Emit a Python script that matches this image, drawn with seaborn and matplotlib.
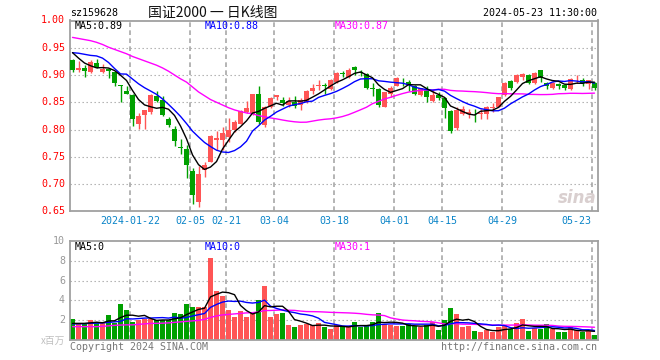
import numpy as np
import pandas as pd
import matplotlib
matplotlib.use("Agg")
import matplotlib.pyplot as plt
import matplotlib.transforms as mtransforms
import seaborn as sns

# ---------------- data ----------------
tick_idx = [10, 20, 26, 34, 44, 54, 62, 72, 87]
tick_labels = ["2024-01-22", "02-05", "02-21", "03-04", "03-18",
               "04-01", "04-15", "04-29", "05-23"]

opens = [0.928, 0.909, 0.912, 0.906, 0.922, 0.906, 0.911, 0.905, 0.882, 0.871,
         0.863, 0.811, 0.827, 0.832, 0.861, 0.855, 0.820, 0.801, 0.768, 0.764,
         0.724, 0.667, 0.725, 0.741, 0.781, 0.781, 0.787, 0.799, 0.811, 0.833,
         0.828, 0.865, 0.808, 0.842, 0.859, 0.855, 0.845, 0.851, 0.845, 0.851,
         0.871, 0.879, 0.882, 0.874, 0.888, 0.903, 0.896, 0.914, 0.905, 0.902,
         0.876, 0.874, 0.842, 0.866, 0.880, 0.893, 0.888, 0.880, 0.863, 0.874,
         0.853, 0.863, 0.857, 0.834, 0.802, 0.828, 0.828, 0.831, 0.828, 0.828,
         0.839, 0.842, 0.863, 0.889, 0.888, 0.897, 0.900, 0.885, 0.909, 0.886,
         0.877, 0.884, 0.882, 0.874, 0.890, 0.891, 0.884, 0.886]
highs = [0.929, 0.925, 0.918, 0.928, 0.929, 0.920, 0.912, 0.906, 0.882, 0.879,
         0.865, 0.830, 0.836, 0.866, 0.871, 0.861, 0.823, 0.806, 0.782, 0.771,
         0.730, 0.733, 0.741, 0.790, 0.798, 0.805, 0.822, 0.817, 0.836, 0.853,
         0.866, 0.879, 0.843, 0.859, 0.863, 0.860, 0.860, 0.861, 0.857, 0.872,
         0.883, 0.890, 0.886, 0.892, 0.906, 0.907, 0.912, 0.917, 0.910, 0.903,
         0.886, 0.876, 0.869, 0.879, 0.896, 0.894, 0.890, 0.882, 0.877, 0.879,
         0.872, 0.869, 0.859, 0.836, 0.842, 0.843, 0.837, 0.837, 0.837, 0.843,
         0.848, 0.860, 0.888, 0.891, 0.902, 0.903, 0.902, 0.906, 0.910, 0.888,
         0.888, 0.886, 0.884, 0.894, 0.900, 0.894, 0.891, 0.888]
lows = [0.906, 0.906, 0.896, 0.904, 0.912, 0.903, 0.894, 0.880, 0.851, 0.865,
        0.806, 0.801, 0.801, 0.828, 0.851, 0.825, 0.805, 0.770, 0.755, 0.711,
        0.663, 0.657, 0.713, 0.740, 0.762, 0.762, 0.778, 0.796, 0.810, 0.830,
        0.827, 0.811, 0.805, 0.839, 0.854, 0.843, 0.842, 0.839, 0.836, 0.849,
        0.866, 0.872, 0.865, 0.872, 0.885, 0.896, 0.894, 0.900, 0.898, 0.874,
        0.861, 0.842, 0.841, 0.859, 0.879, 0.880, 0.871, 0.863, 0.861, 0.851,
        0.851, 0.854, 0.822, 0.793, 0.799, 0.827, 0.822, 0.814, 0.819, 0.820,
        0.833, 0.841, 0.861, 0.872, 0.886, 0.890, 0.884, 0.884, 0.888, 0.874,
        0.874, 0.874, 0.872, 0.872, 0.885, 0.880, 0.874, 0.872]
closes = [0.909, 0.912, 0.908, 0.923, 0.914, 0.911, 0.908, 0.885, 0.880, 0.866,
          0.819, 0.825, 0.836, 0.863, 0.852, 0.827, 0.808, 0.779, 0.766, 0.735,
          0.679, 0.719, 0.735, 0.788, 0.785, 0.794, 0.799, 0.814, 0.834, 0.839,
          0.865, 0.814, 0.842, 0.857, 0.863, 0.848, 0.852, 0.843, 0.854, 0.871,
          0.877, 0.882, 0.879, 0.890, 0.904, 0.901, 0.910, 0.910, 0.903, 0.877,
          0.875, 0.845, 0.868, 0.876, 0.894, 0.892, 0.882, 0.866, 0.876, 0.860,
          0.863, 0.857, 0.839, 0.797, 0.836, 0.837, 0.833, 0.830, 0.831, 0.842,
          0.841, 0.859, 0.886, 0.876, 0.900, 0.901, 0.885, 0.904, 0.894, 0.880,
          0.886, 0.879, 0.877, 0.892, 0.891, 0.885, 0.890, 0.876]
volumes = [2.1, 1.6, 1.6, 2.0, 1.8, 1.8, 2.5, 1.7, 3.6, 3.0,
           1.8, 2.0, 2.1, 2.1, 2.0, 2.0, 2.0, 2.7, 2.6, 3.6,
           3.3, 3.3, 3.3, 8.3, 4.9, 4.4, 3.0, 2.3, 2.9, 2.3,
           2.7, 4.0, 5.5, 2.3, 2.6, 2.7, 1.5, 1.3, 1.5, 1.6,
           1.5, 1.7, 1.3, 1.1, 1.5, 1.4, 1.4, 1.8, 1.3, 1.5,
           1.8, 2.7, 1.6, 1.5, 1.4, 1.4, 1.6, 1.4, 1.3, 1.5,
           1.8, 1.0, 2.0, 3.2, 2.6, 1.3, 1.4, 0.9, 0.8, 1.0,
           0.8, 1.3, 1.5, 1.1, 1.7, 2.1, 0.9, 1.2, 1.1, 1.6,
           1.1, 0.8, 0.8, 1.3, 1.0, 0.8, 0.9, 0.5]

# moving-average values before a full window exists
ma5_head = [0.941, 0.931, 0.922, 0.917]
ma10_head = [0.941, 0.940, 0.938, 0.936, 0.935, 0.931, 0.923, 0.912, 0.902]
ma30_head = [0.969, 0.967, 0.965, 0.963, 0.960, 0.956, 0.951, 0.947, 0.943, 0.939,
             0.934, 0.930, 0.926, 0.922, 0.918, 0.913, 0.907, 0.900, 0.893, 0.887,
             0.878, 0.869, 0.862, 0.855, 0.850, 0.845, 0.840, 0.836, 0.833]
vma5_head = [1.70, 1.70, 1.70, 1.75]
vma10_head = [1.65, 1.65, 1.67, 1.70, 1.72, 1.74, 1.80, 1.85, 1.90]
vma30_head = [1.37, 1.37, 1.37, 1.37, 1.37, 1.40, 1.45, 1.50, 1.53, 1.55,
              1.55, 1.60, 1.65, 1.70, 1.70, 1.72, 1.75, 1.80, 1.85, 1.90,
              1.95, 2.00, 2.10, 2.30, 2.45, 2.55, 2.60, 2.65, 2.70]

# ---------------- build ----------------
n = len(closes)
df = pd.DataFrame(dict(i=np.arange(n), o=opens, h=highs, l=lows, c=closes, v=volumes))
df["dir"] = np.where(df.c >= df.o, "up", "down")


def ma(series, w, head):
    m = series.rolling(w).mean().to_numpy()
    m[:w - 1] = head
    return m


df["ma5"] = ma(df.c, 5, ma5_head)
df["ma10"] = ma(df.c, 10, ma10_head)
df["ma30"] = ma(df.c, 30, ma30_head)
df["vma5"] = ma(df.v, 5, vma5_head)
df["vma10"] = ma(df.v, 10, vma10_head)
df["vma30"] = ma(df.v, 30, vma30_head)

RED = "#FF5555"
GREEN = "#00A000"
MAG = "#FF00FF"
GRID = "#A8A8A8"
SPINE = "#A0A0A0"
TICKBLUE = "#0A84C8"

sns.set_style("white")
plt.rcParams["font.family"] = ["DejaVu Sans Mono", "Noto Sans CJK SC"]

W, H = 660, 360
fig = plt.figure(figsize=(6.6, 3.6), dpi=100)


def fx(x):
    return x / W


def fy(y):
    return 1 - y / H


L, R = 70.3, 597.5
ax = fig.add_axes([fx(L), fy(211.3), fx(R) - fx(L), fy(20.5) - fy(211.3)])
axv = fig.add_axes([fx(L), fy(340.3), fx(R) - fx(L), fy(240.7) - fy(340.3)])

xl = (-0.37, 87.5)
vline_pos = [t - 0.37 for t in tick_idx]

# --- main panel ---
for y in [0.70, 0.75, 0.80, 0.85, 0.90, 0.95]:
    ax.axhline(y, color=GRID, lw=0.8, ls=(0, (1.2, 2.4)), zorder=0)
ax.vlines(vline_pos, 0.65, 1.0, colors=GRID, lw=1.2, linestyles=[(0, (2.8, 2.0))], zorder=0)

cols = np.where(df.dir == "up", RED, GREEN)
ax.vlines(df.i, df.l, df.h, colors=cols, lw=1.0, zorder=2)
body_h = np.maximum((df.c - df.o).abs(), 0.0009)
body_b = np.minimum(df.c, df.o)
ax.bar(df.i, body_h, bottom=body_b, width=0.78, color=cols, lw=0, zorder=3)

sns.lineplot(x=df.i, y=df.ma30, ax=ax, color=MAG, lw=1.0, zorder=4)
sns.lineplot(x=df.i, y=df.ma10, ax=ax, color="#0000FF", lw=1.0, zorder=5)
sns.lineplot(x=df.i, y=df.ma5, ax=ax, color="black", lw=1.0, zorder=6)

ax.set_xlim(*xl)
ax.set_ylim(0.65, 1.0)
ax.set_xticks([])
ax.set_yticks([])
ax.set_xlabel("")
ax.set_ylabel("")
for s in ax.spines.values():
    s.set_color(SPINE)
    s.set_linewidth(1.3)
    s.set_visible(True)

# --- volume panel ---
for y in [2, 4, 6, 8]:
    axv.axhline(y, color=GRID, lw=0.8, ls=(0, (1.2, 2.4)), zorder=0)
axv.vlines(vline_pos, 0, 10, colors=GRID, lw=1.2, linestyles=[(0, (2.8, 2.0))], zorder=0)

sns.barplot(data=df, x="i", y="v", hue="dir", palette={"up": RED, "down": GREEN},
            dodge=False, native_scale=True, width=0.78, saturation=1,
            errorbar=None, legend=False, ax=axv, edgecolor="none", linewidth=0, zorder=2)
sns.lineplot(x=df.i, y=df.vma30, ax=axv, color=MAG, lw=1.0, zorder=4)
sns.lineplot(x=df.i, y=df.vma10, ax=axv, color="#0000FF", lw=1.0, zorder=5)
sns.lineplot(x=df.i, y=df.vma5, ax=axv, color="black", lw=1.0, zorder=6)

axv.set_xlim(*xl)
axv.set_ylim(0, 10)
axv.set_xticks([])
axv.set_yticks([])
axv.set_xlabel("")
axv.set_ylabel("")
for s in axv.spines.values():
    s.set_color(SPINE)
    s.set_linewidth(1.3)
    s.set_visible(True)

# --- texts ---
FS = 7.2

fig.text(fx(70), fy(13.5), "sz159628", ha="left", va="center", fontsize=FS, color="black")
fig.text(fx(213), fy(12.5), "国证2000 一 日K线图", ha="center", va="center", fontsize=10,
         color="#111111", family=["Noto Sans CJK SC", "DejaVu Sans"])
fig.text(fx(597), fy(13.5), "2024-05-23 11:30:00", ha="right", va="center", fontsize=FS,
         color="black")

fig.text(fx(75), fy(26), "MA5:0.89", ha="left", va="center", fontsize=FS, color="black")
fig.text(fx(205), fy(26), "MA10:0.88", ha="left", va="center", fontsize=FS, color="#0000FF")
fig.text(fx(335), fy(26), "MA30:0.87", ha="left", va="center", fontsize=FS, color=MAG)

fig.text(fx(75), fy(246.5), "MA5:0", ha="left", va="center", fontsize=FS, color="black")
fig.text(fx(205), fy(246.5), "MA10:0", ha="left", va="center", fontsize=FS, color="#0000FF")
fig.text(fx(335), fy(246.5), "MA30:1", ha="left", va="center", fontsize=FS, color=MAG)

# y labels (main)
for p in [1.00, 0.95, 0.90, 0.85, 0.80, 0.75, 0.70, 0.65]:
    ax.text(-0.01, p, f"{p:.2f}", transform=ax.get_yaxis_transform(), ha="right",
            va="center", fontsize=FS, color="#FF0000")
# y labels (volume)
for p in [10, 8, 6, 4, 2]:
    axv.text(-0.01, p, f"{p}", transform=axv.get_yaxis_transform(), ha="right",
             va="center", fontsize=FS, color="#999999")
fig.text(fx(65), fy(341), "x百万", ha="right", va="center", fontsize=7.0, color="#C0C0C0",
         family=["Noto Sans CJK SC", "DejaVu Sans"])

# x tick labels (the last one is kept inside the panel)
blend = mtransforms.blended_transform_factory(ax.transData, fig.transFigure)
for k, (t, lab) in enumerate(zip(vline_pos, tick_labels)):
    if k == len(tick_labels) - 1:
        fig.text(fx(591.5), fy(221), lab, ha="right", va="center", fontsize=FS,
                 color=TICKBLUE)
    else:
        ax.text(t, fy(221), lab, transform=blend, ha="center", va="center",
                fontsize=FS, color=TICKBLUE)

fig.text(fx(70), fy(346.5), "Copyright 2024 SINA.COM", ha="left", va="center",
         fontsize=FS, color="#777777")
fig.text(fx(597), fy(346.5), "http://finance.sina.com.cn", ha="right", va="center",
         fontsize=FS, color="#777777")

# faint watermark
fig.text(fx(577), fy(198), "sina", ha="center", va="center", fontsize=12,
         fontstyle="italic", fontweight="bold", color="#D9CFCF", family="DejaVu Sans")

fig.savefig("out.png", dpi=100)
